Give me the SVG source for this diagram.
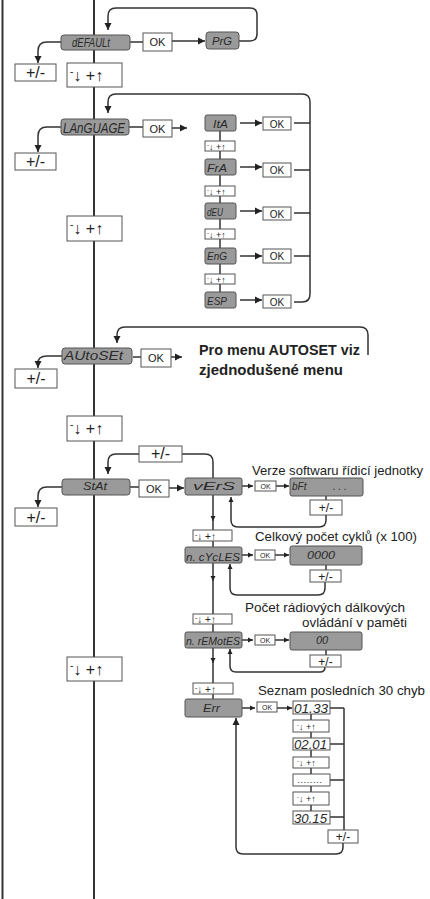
<svg xmlns="http://www.w3.org/2000/svg" width="430" height="899" viewBox="0 0 430 899">
<defs>
<style>
.ln{fill:none;stroke:#333;stroke-width:1.5}
.mn{fill:none;stroke:#333;stroke-width:2}
.g{fill:#9a9a9a;stroke:#555;stroke-width:1}
.w{fill:#fff;stroke:#555;stroke-width:1}
.lcd{font-family:"Liberation Sans",sans-serif;font-style:italic;fill:#2a2a2a}
.t{font-family:"Liberation Sans",sans-serif;fill:#222}
.c{text-anchor:middle}
.ok{font-size:11px}
.oks{font-size:7px}
.pm{font-size:16px}
.pms{font-size:12px}
</style>
<marker id="a" viewBox="0 0 10 10" refX="10" refY="5" markerUnits="userSpaceOnUse" markerWidth="7" markerHeight="11" orient="auto"><path d="M0,0 L10,5 L0,10 z" fill="#222"/></marker>
<marker id="s" viewBox="0 0 10 10" refX="10" refY="5" markerUnits="userSpaceOnUse" markerWidth="5" markerHeight="8" orient="auto"><path d="M0,0 L10,5 L0,10 z" fill="#222"/></marker>
</defs>
<g id="connectors">
<path class="mn" d="M94 0V899"/>
<path class="mn" d="M2.5 0V899"/>
<path class="ln" d="M130 42H143"/>
<path class="ln" d="M172 41H205" marker-end="url(#a)"/>
<path class="ln" d="M239 41H250Q257 41 257 34V15Q257 8 250 8H116Q108 8 108 16V30" marker-end="url(#a)"/>
<path class="ln" d="M61 42H47Q38 42 38 51V63" marker-end="url(#a)"/>
<path class="ln" d="M294 302H302Q310 302 310 294V102Q310 94 302 94H116Q108 94 108 102V113" marker-end="url(#a)"/>
<path class="ln" d="M129 127H143"/>
<path class="ln" d="M172 128H187" marker-end="url(#a)"/>
<path class="ln" d="M61 127H47Q38 127 38 136V152" marker-end="url(#a)"/>
<path class="ln" d="M220 131V292"/>
<path class="ln" d="M240 123H262" marker-end="url(#a)"/>
<path class="ln" d="M240 167H262" marker-end="url(#a)"/>
<path class="ln" d="M240 211H262" marker-end="url(#a)"/>
<path class="ln" d="M240 256H262" marker-end="url(#a)"/>
<path class="ln" d="M240 300H262" marker-end="url(#a)"/>
<path class="ln" d="M294 123H310M294 170H310M294 213H310M294 256H310"/>
<path class="ln" d="M368 355V335Q368 327 360 327H125Q117 327 117 335V343" marker-end="url(#a)"/>
<path class="ln" d="M133 357H141"/>
<path class="ln" d="M171 357H182" marker-end="url(#a)"/>
<path class="ln" d="M62 356H47Q38 356 38 363V368" marker-end="url(#a)"/>
<path class="ln" d="M139 454H116Q108 454 108 462V474" marker-end="url(#a)"/>
<path class="ln" d="M182 454H205Q213 454 213 462V478"/>
<path class="ln" d="M130 487H139"/>
<path class="ln" d="M169 488H184" marker-end="url(#a)"/>
<path class="ln" d="M62 487H47Q38 487 38 496V507" marker-end="url(#a)"/>
<path class="ln" d="M242 486H253" marker-end="url(#s)"/>
<path class="ln" d="M276 486H289" marker-end="url(#s)"/>
<path class="ln" d="M326 496V500"/>
<path class="ln" d="M326 515V520Q326 527 319 527H238Q231 527 231 520V497" marker-end="url(#s)"/>
<path class="ln" d="M213 495V521" marker-end="url(#s)"/>
<path class="ln" d="M213 520V530"/>
<path class="ln" d="M213 541V547"/>
<path class="ln" d="M242 555H253" marker-end="url(#s)"/>
<path class="ln" d="M275 555H289" marker-end="url(#s)"/>
<path class="ln" d="M326 565V570"/>
<path class="ln" d="M325 582V588Q325 595 318 595H237Q230 595 230 588V564" marker-end="url(#s)"/>
<path class="ln" d="M213 563V581" marker-end="url(#s)"/>
<path class="ln" d="M213 580V614"/>
<path class="ln" d="M213 624V632"/>
<path class="ln" d="M242 640H253" marker-end="url(#s)"/>
<path class="ln" d="M275 640H289" marker-end="url(#s)"/>
<path class="ln" d="M326 650V655"/>
<path class="ln" d="M325 667Q325 672 320 672H236Q230 672 230 666V649" marker-end="url(#s)"/>
<path class="ln" d="M213 648V663" marker-end="url(#s)"/>
<path class="ln" d="M213 662V683"/>
<path class="ln" d="M213 694V699"/>
<path class="ln" d="M242 708H255" marker-end="url(#s)"/>
<path class="ln" d="M277 708H292" marker-end="url(#s)"/>
<path class="ln" d="M311 714V811"/>
<path class="ln" d="M330 708H344M330 744H344M330 780H344M330 817H344M344 708V830"/>
<path class="ln" d="M343 843V847Q343 854 336 854H243Q236 854 236 847V718" marker-end="url(#a)"/>
</g>
<g id="default">
<rect class="g" x="61" y="35" width="69" height="15" rx="3"/>
<text class="lcd" x="72" y="47" font-size="12" textLength="38" lengthAdjust="spacingAndGlyphs">dEFAULt</text>
</g>
<g id="default-ok"><rect class="w" x="143" y="33" width="29" height="18"/><text class="t c ok" x="157.5" y="46">OK</text></g>
<g id="prg"><rect class="g" x="206" y="32" width="33" height="17" rx="3"/><text class="lcd" x="212" y="45" font-size="11" textLength="20" lengthAdjust="spacingAndGlyphs">PrG</text></g>
<g id="default-pm"><rect class="w" x="15" y="64" width="41" height="17"/><text class="t c pm" x="35.5" y="78">+/-</text></g>
<g id="nav1"><rect class="w" x="67" y="63" width="55" height="24"/><text class="t" x="70" y="81" font-size="16"><tspan font-size="10" dy="-6">-</tspan><tspan dy="6">↓ +↑</tspan></text></g>

<g id="language"><rect class="g" x="61" y="119" width="68" height="16" rx="3"/><text class="lcd" x="63" y="133" font-size="14" textLength="62" lengthAdjust="spacingAndGlyphs">LAnGUAGE</text></g>
<g id="language-ok"><rect class="w" x="143" y="120" width="29" height="17"/><text class="t c ok" x="157.5" y="132.5">OK</text></g>
<g id="language-pm"><rect class="w" x="15" y="153" width="41" height="17"/><text class="t c pm" x="35.5" y="167">+/-</text></g>
<g id="nav2"><rect class="w" x="67" y="216" width="55" height="25"/><text class="t" x="70" y="234" font-size="16"><tspan font-size="10" dy="-6">-</tspan><tspan dy="6">↓ +↑</tspan></text></g>
<g id="ita"><rect class="g" x="205" y="115" width="31" height="16" rx="2"/><text class="lcd" x="213" y="128" font-size="11" textLength="15" lengthAdjust="spacingAndGlyphs">ItA</text></g>
<g id="nav-l1"><rect class="w" x="205" y="141" width="30" height="10"/><text class="t" x="207" y="149.5" font-size="9"><tspan font-size="6" dy="-3">-</tspan><tspan dy="3">↓ +↑</tspan></text></g>
<g id="fra"><rect class="g" x="205" y="159" width="31" height="16" rx="2"/><text class="lcd" x="207" y="172" font-size="11" textLength="20" lengthAdjust="spacingAndGlyphs">FrA</text></g>
<g id="nav-l2"><rect class="w" x="205" y="186" width="30" height="10"/><text class="t" x="207" y="194.5" font-size="9"><tspan font-size="6" dy="-3">-</tspan><tspan dy="3">↓ +↑</tspan></text></g>
<g id="deu"><rect class="g" x="205" y="203" width="31" height="16" rx="2"/><text class="lcd" x="207" y="216" font-size="11" textLength="16" lengthAdjust="spacingAndGlyphs">dEU</text></g>
<g id="nav-l3"><rect class="w" x="205" y="229" width="30" height="10"/><text class="t" x="207" y="237.5" font-size="9"><tspan font-size="6" dy="-3">-</tspan><tspan dy="3">↓ +↑</tspan></text></g>
<g id="eng"><rect class="g" x="205" y="248" width="31" height="16" rx="2"/><text class="lcd" x="207" y="260" font-size="11" textLength="20" lengthAdjust="spacingAndGlyphs">EnG</text></g>
<g id="nav-l4"><rect class="w" x="205" y="274" width="30" height="10"/><text class="t" x="207" y="282.5" font-size="9"><tspan font-size="6" dy="-3">-</tspan><tspan dy="3">↓ +↑</tspan></text></g>
<g id="esp"><rect class="g" x="205" y="292" width="31" height="16" rx="2"/><text class="lcd" x="207" y="305" font-size="11" textLength="20" lengthAdjust="spacingAndGlyphs">ESP</text></g>
<g id="ok-ita"><rect class="w" x="263" y="117" width="28" height="13"/><text class="t c" x="277" y="127.5" font-size="10">OK</text></g>
<g id="ok-fra"><rect class="w" x="263" y="163" width="28" height="14"/><text class="t c" x="277" y="174" font-size="10">OK</text></g>
<g id="ok-deu"><rect class="w" x="263" y="207" width="28" height="13"/><text class="t c" x="277" y="217.5" font-size="10">OK</text></g>
<g id="ok-eng"><rect class="w" x="263" y="249" width="28" height="14"/><text class="t c" x="277" y="260" font-size="10">OK</text></g>
<g id="ok-esp"><rect class="w" x="263" y="295" width="28" height="13"/><text class="t c" x="277" y="305.5" font-size="10">OK</text></g>

<g id="autoset"><rect class="g" x="62" y="348" width="70" height="16" rx="3"/><text class="lcd" x="64" y="360" font-size="12" textLength="59" lengthAdjust="spacingAndGlyphs">AUtoSEt</text></g>
<g id="autoset-ok"><rect class="w" x="141" y="349" width="30" height="18"/><text class="t c ok" x="156" y="362">OK</text></g>
<g id="autoset-note"><text class="t" x="199" y="355" font-size="14" font-weight="bold" textLength="161" lengthAdjust="spacingAndGlyphs">Pro menu AUTOSET viz</text><text class="t" x="199" y="375" font-size="14" font-weight="bold" textLength="144" lengthAdjust="spacingAndGlyphs">zjednodušené menu</text></g>
<g id="autoset-pm"><rect class="w" x="15" y="369" width="42" height="19"/><text class="t c pm" x="36" y="384">+/-</text></g>
<g id="nav3"><rect class="w" x="67" y="416" width="55" height="25"/><text class="t" x="70" y="434" font-size="16"><tspan font-size="10" dy="-6">-</tspan><tspan dy="6">↓ +↑</tspan></text></g>

<g id="stat-pm-top"><rect class="w" x="139" y="446" width="43" height="16"/><text class="t c pm" x="160.5" y="459">+/-</text></g>
<g id="stat"><rect class="g" x="62" y="479" width="68" height="16" rx="3"/><text class="lcd" x="83" y="490" font-size="10" textLength="24" lengthAdjust="spacingAndGlyphs">StAt</text></g>
<g id="stat-ok"><rect class="w" x="139" y="480" width="30" height="17"/><text class="t c ok" x="154" y="492.5">OK</text></g>
<g id="stat-pm"><rect class="w" x="15" y="508" width="42" height="18"/><text class="t c pm" x="36" y="522.5">+/-</text></g>
<g id="vers"><rect class="g" x="185" y="478" width="57" height="17" rx="2"/><text class="lcd" x="193" y="490" font-size="10" textLength="42" lengthAdjust="spacingAndGlyphs">vErS</text></g>
<g id="vers-ok"><rect class="w" x="255" y="481" width="21" height="10"/><text class="t c oks" x="265.5" y="488.5">OK</text></g>
<g id="bft"><rect class="g" x="290" y="478" width="73" height="18" rx="2"/><text class="lcd" font-size="10"><tspan x="292" y="490">bFt</tspan><tspan x="333" y="490">. . .</tspan></text></g>
<g id="vers-pm"><rect class="w" x="310" y="500" width="32" height="15"/><text class="t c pms" x="326" y="511.5">+/-</text></g>
<text class="t" x="252" y="475" font-size="13.5" textLength="171" lengthAdjust="spacingAndGlyphs">Verze softwaru řídicí jednotky</text>

<g id="nav-s1"><rect class="w" x="193" y="530" width="39" height="11"/><text class="t" x="195" y="539.5" font-size="10"><tspan font-size="7" dy="-3">-</tspan><tspan dy="3">↓ +↑</tspan></text></g>
<g id="cycles"><rect class="g" x="185" y="547" width="57" height="16" rx="2"/><text class="lcd" x="186" y="561" font-size="11" textLength="54" lengthAdjust="spacingAndGlyphs">n. cYcLES</text></g>
<g id="cycles-ok"><rect class="w" x="255" y="550" width="20" height="10"/><text class="t c oks" x="265" y="557.5">OK</text></g>
<g id="cycles-val"><rect class="g" x="290" y="546" width="72" height="19" rx="2"/><text class="lcd" x="307" y="559" font-size="11" textLength="28" lengthAdjust="spacingAndGlyphs">0000</text></g>
<g id="cycles-pm"><rect class="w" x="310" y="570" width="31" height="12"/><text class="t c pms" x="325.5" y="580.5">+/-</text></g>
<text class="t" x="255" y="541" font-size="13.5" textLength="162" lengthAdjust="spacingAndGlyphs">Celkový počet cyklů (x 100)</text>

<g id="nav-s2"><rect class="w" x="193" y="614" width="39" height="10"/><text class="t" x="195" y="623" font-size="10"><tspan font-size="7" dy="-3">-</tspan><tspan dy="3">↓ +↑</tspan></text></g>
<g id="remotes"><rect class="g" x="185" y="632" width="57" height="16" rx="2"/><text class="lcd" x="186" y="645" font-size="11" textLength="54" lengthAdjust="spacingAndGlyphs">n. rEMotES</text></g>
<g id="remotes-ok"><rect class="w" x="255" y="635" width="20" height="10"/><text class="t c oks" x="265" y="642.5">OK</text></g>
<g id="remotes-val"><rect class="g" x="290" y="632" width="72" height="18" rx="2"/><text class="lcd c" x="322" y="644" font-size="11">00</text></g>
<g id="remotes-pm"><rect class="w" x="310" y="655" width="31" height="12"/><text class="t c pms" x="325.5" y="665.5">+/-</text></g>
<text class="t" x="245" y="612" font-size="12.5" textLength="160" lengthAdjust="spacingAndGlyphs">Počet rádiových dálkových</text>
<text class="t" x="302" y="627" font-size="12.5" textLength="105" lengthAdjust="spacingAndGlyphs">ovládání v paměti</text>

<g id="nav-s3"><rect class="w" x="193" y="683" width="40" height="11"/><text class="t" x="195" y="692.5" font-size="10"><tspan font-size="7" dy="-3">-</tspan><tspan dy="3">↓ +↑</tspan></text></g>
<text class="t" x="258" y="695" font-size="13.5" textLength="167" lengthAdjust="spacingAndGlyphs">Seznam posledních 30 chyb</text>
<g id="err"><rect class="g" x="185" y="699" width="57" height="18" rx="2"/><text class="lcd" x="203" y="712" font-size="10" textLength="17" lengthAdjust="spacingAndGlyphs">Err</text></g>
<g id="err-ok"><rect class="w" x="257" y="702" width="20" height="10"/><text class="t c oks" x="267" y="709.5">OK</text></g>
<g id="e1"><rect class="w" x="293" y="701" width="37" height="13"/><text class="lcd" x="294" y="713" font-size="13" textLength="34" lengthAdjust="spacingAndGlyphs">01.33</text></g>
<g id="nav-e1"><rect class="w" x="293" y="720" width="36" height="12"/><text class="t" x="297" y="729.5" font-size="9"><tspan font-size="6" dy="-3">-</tspan><tspan dy="3">↓ +↑</tspan></text></g>
<g id="e2"><rect class="w" x="293" y="738" width="37" height="12"/><text class="lcd" x="294" y="749" font-size="13" textLength="33" lengthAdjust="spacingAndGlyphs">02.01</text></g>
<g id="nav-e2"><rect class="w" x="293" y="757" width="36" height="11"/><text class="t" x="297" y="766" font-size="9"><tspan font-size="6" dy="-3">-</tspan><tspan dy="3">↓ +↑</tspan></text></g>
<g id="e3"><rect class="w" x="293" y="774" width="37" height="12"/><text class="t" x="297" y="783" font-size="8" textLength="25" lengthAdjust="spacingAndGlyphs">........</text></g>
<g id="nav-e3"><rect class="w" x="293" y="792" width="36" height="13"/><text class="t" x="297" y="802" font-size="9"><tspan font-size="6" dy="-3">-</tspan><tspan dy="3">↓ +↑</tspan></text></g>
<g id="e4"><rect class="w" x="293" y="811" width="37" height="13"/><text class="lcd" x="294" y="823" font-size="13" textLength="33" lengthAdjust="spacingAndGlyphs">30.15</text></g>
<g id="err-pm"><rect class="w" x="328" y="830" width="30" height="13"/><text class="t c pms" x="343" y="841">+/-</text></g>

<g id="nav4"><rect class="w" x="67" y="657" width="55" height="24"/><text class="t" x="70" y="675" font-size="16"><tspan font-size="10" dy="-6">-</tspan><tspan dy="6">↓ +↑</tspan></text></g>
</svg>
